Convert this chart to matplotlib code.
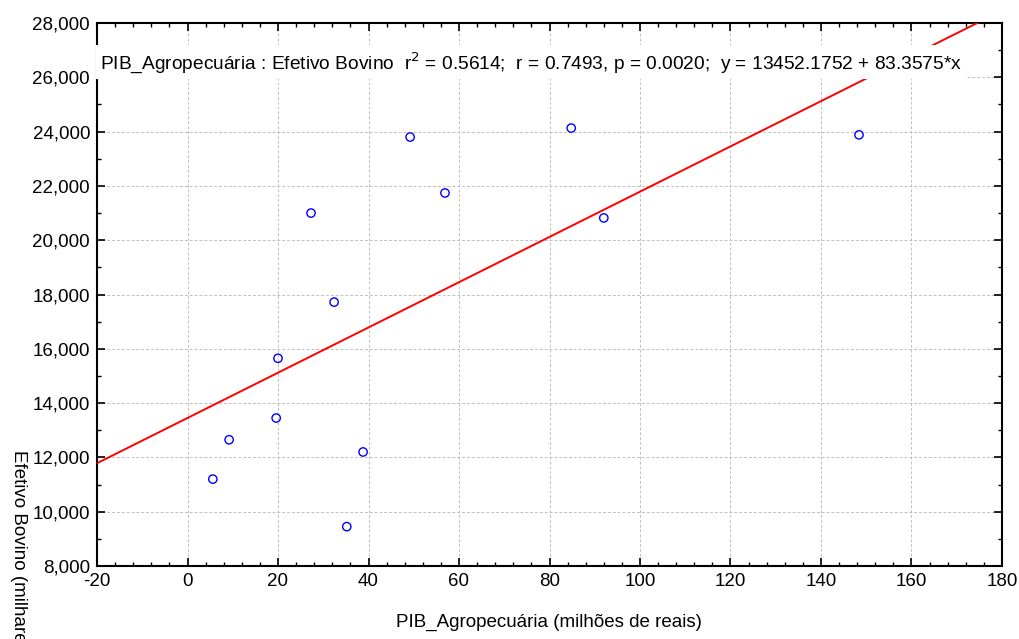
import numpy as np
import matplotlib
matplotlib.use("Agg")
import matplotlib.pyplot as plt
from matplotlib.ticker import MultipleLocator, FuncFormatter

plt.rcParams["font.family"] = ["Liberation Sans", "DejaVu Sans"]
plt.rcParams["axes.unicode_minus"] = False

# data
pib = [5.6, 9.2, 19.6, 20.0, 27.3, 32.4, 35.2, 38.8, 49.2, 56.9, 84.8, 92.0, 148.4]
bovino = [11200, 12650, 13450, 15650, 21000, 17720, 9450, 12200, 23800, 21740, 24130, 20820, 23880]
intercept = 13452.1752
slope = 83.3575
xlim = (-20, 180)
ylim = (8000, 28000)

fig = plt.figure(figsize=(10.2, 6.39), dpi=100)
ax = fig.add_axes([97 / 1020, 1 - 566 / 639, 905 / 1020, 543 / 639])

xs = np.array(xlim, dtype=float)
ax.plot(xs, intercept + slope * xs, color="red", lw=1.4, zorder=3)
ax.scatter(pib, bovino, s=36, facecolors="none", edgecolors="#0000ff", linewidths=1.0, zorder=4)

ax.set_xlim(*xlim)
ax.set_ylim(*ylim)
ax.xaxis.set_major_locator(MultipleLocator(20))
ax.xaxis.set_minor_locator(MultipleLocator(4))
ax.yaxis.set_major_locator(MultipleLocator(2000))
ax.yaxis.set_minor_locator(MultipleLocator(1000))
ax.yaxis.set_major_formatter(FuncFormatter(lambda v, p: f"{v:,.0f}"))
ax.tick_params(which="both", direction="in", top=True, right=True, labelsize=13.5, pad=5)
ax.tick_params(which="major", length=6, width=1.2)
ax.tick_params(which="minor", length=3, width=1.0)
for s in ax.spines.values():
    s.set_linewidth(1.5)
ax.grid(True, which="major", ls=(0, (3, 2)), color="#c0c0c0", lw=0.7)
ax.set_axisbelow(True)

ax.text(-19.3, 26560,
        r"PIB_Agropecuária : Efetivo Bovino  r$^2$ = 0.5614;  r = 0.7493, p = 0.0020;  y = 13452.1752 + 83.3575*x",
        fontsize=13.8, va="center", ha="left",
        bbox=dict(facecolor="white", edgecolor="none", pad=3), zorder=5)

fig.text(549 / 1020, 1 - 622 / 639, "PIB_Agropecuária (milhões de reais)", ha="center", va="center", fontsize=13.5)
fig.text(18 / 1020, 1 - 450 / 639, "Efetivo Bovino (milhares de cabeças)", rotation=270,
         ha="center", va="top", fontsize=13.5)

fig.savefig("out.png", dpi=100)
